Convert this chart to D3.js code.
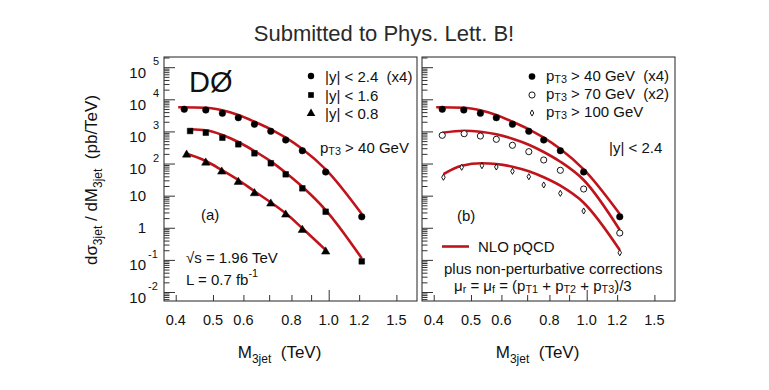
<!DOCTYPE html>
<html><head><meta charset="utf-8">
<script src="https://cdn.jsdelivr.net/npm/d3@7"></script>
<style>body{margin:0;background:#fff}svg{display:block}text{font-family:"Liberation Sans",Arial,Helvetica,sans-serif;fill:#111;white-space:pre}</style>
</head><body><svg id="c" width="769" height="390"></svg>
<script>
// ---------- data ----------
// panel (a): |y|<2.4 (x4), |y|<1.6, |y|<0.8  (pT3 > 40 GeV)
const massY24 = [0.421,0.479,0.529,0.582,0.641,0.707,0.773,0.854,0.982,1.219];
const xsY24   = [4890,4640,3660,2670,1667,1010,541,251,54.6,2.2];
const massY16 = [0.436,0.479,0.529,0.582,0.641,0.707,0.773,0.854,0.982,1.219];
const xsY16   = [1030,912,637,397,208,102,46.2,16.9,3.16,0.090];
const massY08 = [0.427,0.479,0.527,0.582,0.641,0.707,0.773,0.854,0.982];
const xsY08   = [188,106,55.7,26.6,11.8,5.62,2.55,0.853,0.18];
// panel (b): pT3>40 (x4), pT3>70 (x2), pT3>100 GeV  (|y|<2.4)
const massPt40 = [0.421,0.479,0.529,0.582,0.641,0.707,0.773,0.854,0.982,1.219];
const xsPt40   = [4890,4640,3660,2670,1667,1010,541,251,54.6,2.2];
const massPt70 = [0.421,0.480,0.529,0.582,0.641,0.707,0.773,0.854,0.982,1.219];
const xsPt70   = [757,849,719,568,370,234,129,61.6,16.1,0.687];
const massPt100 = [0.424,0.473,0.534,0.582,0.641,0.707,0.773,0.854,0.982,1.219];
const xsPt100   = [37.3,76.4,85.7,78,57.3,38.9,21.5,11.8,3.33,0.167];
// NLO pQCD (+ non-perturbative corrections) curves
const thMassY24 = [0.406,0.479,0.529,0.582,0.641,0.707,0.773,0.854,0.982,1.219];
const thY24     = [5636,5470,4550,3243,2009,1164,637,284,66.1,2.69];
const thMassY16 = [0.436,0.479,0.529,0.582,0.641,0.707,0.773,0.854,0.982,1.219];
const thY16     = [1164,1084,774,468,245,117,51.9,19.0,3.57,0.112];
const thMassY08 = [0.423,0.479,0.527,0.582,0.641,0.707,0.773,0.854,0.982];
const thY08     = [208,120,63,30.8,13.7,6.21,2.82,0.964,0.203];
const thMassPt70 = [0.421,0.480,0.529,0.582,0.641,0.707,0.773,0.854,0.982,1.219];
const thPt70     = [912,1052,979,813,593,386,229,114,30.8,0.853];
const thMassPt100 = [0.424,0.473,0.534,0.582,0.641,0.707,0.773,0.854,0.982,1.219];
const thPt100     = [47.2,85.7,102,96.8,79.8,57.3,37.3,20.4,6.04,0.203];
// axes
const yMajorTicks = [1e-2,1e-1,1,10,1e2,1e3,1e4,1e5];
const yTickBases  = ["10","10","1","10","10","10","10","10"];
const yTickExps   = ["-2","-1","","","2","3","4","5"];
const xTickValues = [0.4,0.5,0.6,0.8,1.0,1.2,1.5];
const xTickLabels = ["0.4","0.5","0.6","0.8","1.0","1.2","1.5"];
const xMinorTicks = [0.4,0.5,0.6,0.7,0.8,0.9,1.2,1.5];
const xMajorTicks = [1.0];

// ---------- layout ----------
const svg = d3.select("#c");
const W = 253, H = 244, TOP = 57;
const panelLeft = [164, 422];
const x = d3.scaleLog().domain([0.3729, 1.697]).range([0, W]);
const y = d3.scaleLog().domain([0.00525, 207500]).range([H, 0]);
const RED = "#c0141c";

svg.append("text").attr("x", 384).attr("y", 41).attr("text-anchor","middle")
  .style("font-size","22px").style("fill","#2a2a2a").text("Submitted to Phys. Lett. B!");

// minor y ticks
const yMinor = [];
for (let e = -3; e <= 5; e++) for (let k = 2; k <= 9; k++) {
  const v = k * Math.pow(10, e);
  if (v > y.domain()[0] && v < y.domain()[1]) yMinor.push(v);
}

function panel(left) {
  const g = svg.append("g").attr("transform", `translate(${left},${TOP})`);
  g.append("rect").attr("width", W).attr("height", H).attr("fill","none").attr("stroke","#222").attr("stroke-width",1);
  const ya = g.append("g").call(d3.axisLeft(y).tickValues(yMajorTicks).tickSize(-11).tickFormat(""));
  const yb = g.append("g").call(d3.axisLeft(y).tickValues(yMinor).tickSize(-5.5).tickFormat(""));
  const xa = g.append("g").attr("transform",`translate(0,${H})`).call(d3.axisBottom(x).tickValues(xMinorTicks).tickSize(-6).tickFormat(""));
  const xb = g.append("g").attr("transform",`translate(0,${H})`).call(d3.axisBottom(x).tickValues(xMajorTicks).tickSize(-11).tickFormat(""));
  [ya,yb,xa,xb].forEach(a => { a.select(".domain").remove(); a.selectAll("line").attr("stroke","#333"); });
  // x tick labels
  g.selectAll(".xl").data(xTickValues).join("text")
    .attr("x", d => x(d)).attr("y", H + 24).attr("text-anchor","middle")
    .style("font-size","14.5px").text((d,i) => xTickLabels[i]);
  // x title
  const xt = g.append("text").attr("x", x(0.745)).attr("y", H + 57).attr("text-anchor","middle").style("font-size","17px");
  xt.append("tspan").text("M");
  xt.append("tspan").attr("dy", 5).style("font-size","12px").text("3jet");
  xt.append("tspan").attr("dy", -5).text("  (TeV)");
  return g;
}

const gA = panel(panelLeft[0]);
const gB = panel(panelLeft[1]);

// y tick labels (left panel only)
yMajorTicks.forEach((v, i) => {
  const t = svg.append("text").attr("y", TOP + y(v)).style("font-size","15px");
  if (yTickExps[i] === "") {
    t.attr("x", 146).attr("text-anchor","end").attr("dominant-baseline","central").text(yTickBases[i]);
  } else {
    svg.append("text").attr("x", 146).attr("y", TOP + y(v) + 5).attr("text-anchor","end")
      .attr("dominant-baseline","central").style("font-size","15px").text(yTickBases[i]);
    t.attr("x", yTickExps[i].length > 1 ? 148 : 153).attr("y", TOP + y(v) - 2)
      .style("font-size","11px").text(yTickExps[i]);
  }
});

// y axis title
const yt = svg.append("text").attr("transform","translate(97,180) rotate(-90)")
  .attr("text-anchor","middle").style("font-size","17px");
yt.append("tspan").text("dσ");
yt.append("tspan").attr("dy", 5).style("font-size","12px").text("3jet");
yt.append("tspan").attr("dy", -5).text(" / dM");
yt.append("tspan").attr("dy", 5).style("font-size","12px").text("3jet");
yt.append("tspan").attr("dy", -5).text("  (pb/TeV)");

// ---------- marks ----------
const line = d3.line().x(d => x(d[0])).y(d => y(d[1])).curve(d3.curveMonotoneX);
function curve(g, ms, vs) {
  g.append("path").datum(ms.map((m,i) => [m, vs[i]])).attr("d", line)
    .attr("fill","none").attr("stroke", RED).attr("stroke-width", 2.6);
}
function points(g, ms, vs, type, size, filled) {
  g.selectAll(null).data(ms.map((m,i) => [m, vs[i]])).join("path")
    .attr("transform", d => `translate(${x(d[0])},${y(d[1])})`)
    .attr("d", d3.symbol().type(type).size(size))
    .attr("fill", filled ? "#000" : "#fff").attr("stroke","#000").attr("stroke-width", filled ? 0.5 : 0.9);
}
const thinDiamond = { draw(ctx, size) { const r = Math.sqrt(size) / 2; ctx.moveTo(0, -r*1.3); ctx.lineTo(r*0.75, 0); ctx.lineTo(0, r*1.3); ctx.lineTo(-r*0.75, 0); ctx.closePath(); } };

curve(gA, thMassY24, thY24); curve(gA, thMassY16, thY16); curve(gA, thMassY08, thY08);
points(gA, massY24, xsY24, d3.symbolCircle, 34, true);
points(gA, massY16, xsY16, d3.symbolSquare, 32, true);
points(gA, massY08, xsY08, d3.symbolTriangle, 30, true);

curve(gB, thMassY24, thY24); curve(gB, thMassPt70, thPt70); curve(gB, thMassPt100, thPt100);
points(gB, massPt40, xsPt40, d3.symbolCircle, 34, true);
points(gB, massPt70, xsPt70, d3.symbolCircle, 30, false);
points(gB, massPt100, xsPt100, thinDiamond, 22, false);

// ---------- annotations panel (a) ----------
function txt(xp, yp, s, size) {
  return svg.append("text").attr("x", xp).attr("y", yp).attr("dominant-baseline","central").style("font-size", size + "px").text(s);
}
function subText(xp, yp, parts, size) {
  const t = svg.append("text").attr("x", xp).attr("y", yp).attr("dominant-baseline","central").style("font-size", size + "px");
  parts.forEach(p => {
    if (p[1] === "sub") t.append("tspan").attr("dy", 4).style("font-size", (size*0.72) + "px").text(p[0]);
    else if (p[1] === "sup") t.append("tspan").attr("dy", -6).style("font-size", (size*0.72) + "px").text(p[0]);
    else if (p[1] === "subend") t.append("tspan").attr("dy", -4).text(p[0]);
    else if (p[1] === "supend") t.append("tspan").attr("dy", 6).text(p[0]);
    else t.append("tspan").text(p[0]);
  });
  return t;
}
txt(189, 82, "DØ", 29);
const legA = [["|y| < 2.4  (x4)", d3.symbolCircle], ["|y| < 1.6", d3.symbolSquare], ["|y| < 0.8", d3.symbolTriangle]];
const legAy = [76, 95, 113.5];
legA.forEach((l, i) => {
  svg.append("path").attr("transform",`translate(311,${legAy[i]})`).attr("d", d3.symbol().type(l[1]).size(32)).attr("fill","#000");
  txt(325, legAy[i], l[0], 15);
});
subText(320, 147, [["p",""],["T3","sub"],[" > 40 GeV","subend"]], 15);
txt(201, 214, "(a)", 15);
const sq = svg.append("text").attr("x", 186).attr("y", 257).attr("dominant-baseline","central").style("font-size","15px");
sq.append("tspan").text("√s = 1.96 TeV");
subText(186, 279, [["L = 0.7 fb",""],["-1","sup"]], 15);

// ---------- annotations panel (b) ----------
const legBy = [76.5, 95, 113];
const legB = [[" > 40 GeV  (x4)"], [" > 70 GeV  (x2)"], [" > 100 GeV"]];
svg.append("path").attr("transform",`translate(532,${legBy[0]})`).attr("d", d3.symbol().type(d3.symbolCircle).size(34)).attr("fill","#000");
svg.append("path").attr("transform",`translate(532,${legBy[1]})`).attr("d", d3.symbol().type(d3.symbolCircle).size(30)).attr("fill","#fff").attr("stroke","#000").attr("stroke-width",0.9);
svg.append("path").attr("transform",`translate(532,${legBy[2]})`).attr("d", d3.symbol().type(thinDiamond).size(22)).attr("fill","#fff").attr("stroke","#000").attr("stroke-width",0.9);
legB.forEach((l, i) => subText(546, legBy[i] - 2, [["p",""],["T3","sub"],[l[0],"subend"]], 15));
txt(609, 147, "|y| < 2.4", 15);
txt(457, 215, "(b)", 15);
svg.append("line").attr("x1", 442).attr("x2", 469).attr("y1", 246.5).attr("y2", 246.5).attr("stroke", RED).attr("stroke-width", 2.6);
txt(478, 246.5, "NLO pQCD", 15);
txt(444, 268.5, "plus non-perturbative corrections", 15);
subText(454, 285, [["μ",""],["r","sub"],[" = μ","subend"],["f","sub"],[" = (p","subend"],["T1","sub"],[" + p","subend"],["T2","sub"],[" + p","subend"],["T3","sub"],[")/3","subend"]], 15);
</script></body></html>
